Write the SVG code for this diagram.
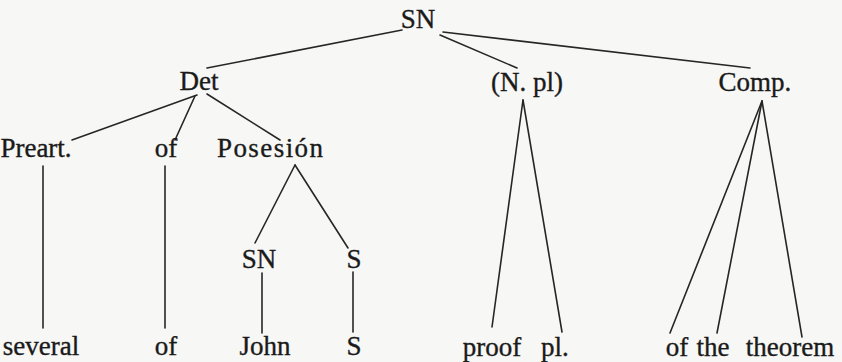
<svg xmlns="http://www.w3.org/2000/svg" width="842" height="362" viewBox="0 0 842 362">
<style>
.t text{font-size:27px;fill:#1a1a1a;stroke:#1a1a1a;stroke-width:0.35;text-anchor:middle}
.e line{stroke:#262626;stroke-width:1.6;stroke-linecap:round}
</style>
<rect width="842" height="362" fill="#f7f7f5"/>
<g class="e" id="edges">
<line x1="402" y1="30" x2="207" y2="68"/>
<line x1="440" y1="35" x2="517" y2="68"/>
<line x1="443" y1="32" x2="750" y2="68"/>
<line x1="197" y1="95" x2="72" y2="140"/>
<line x1="195" y1="96" x2="175" y2="140"/>
<line x1="207" y1="94" x2="280" y2="140"/>
<line x1="43" y1="166" x2="43" y2="328"/>
<line x1="165" y1="166" x2="165" y2="328"/>
<line x1="295" y1="165" x2="255" y2="243"/>
<line x1="295" y1="165" x2="348" y2="248"/>
<line x1="262" y1="273" x2="262" y2="333"/>
<line x1="353" y1="272" x2="353" y2="332"/>
<line x1="523" y1="100" x2="492" y2="327"/>
<line x1="523" y1="100" x2="562" y2="332"/>
<line x1="762" y1="101" x2="670" y2="333"/>
<line x1="762" y1="101" x2="717" y2="333"/>
<line x1="762" y1="101" x2="802" y2="337"/>
</g>
<g class="t" font-family="Liberation Serif, serif">
<g id="n-sn"><text x="418" y="28">SN</text></g>
<g id="n-det"><text x="199" y="90">Det</text></g>
<g id="n-npl"><text x="527" y="91">(N. pl)</text></g>
<g id="n-comp"><text x="755" y="91">Comp.</text></g>
<g id="n-preart"><text x="36" y="157">Preart.</text></g>
<g id="n-of1"><text x="166" y="157">of</text></g>
<g id="n-posesion"><text x="270" y="157" textLength="106" lengthAdjust="spacing">Posesión</text></g>
<g id="n-sn2"><text x="259" y="268">SN</text></g>
<g id="n-s2"><text x="354" y="268">S</text></g>
<g id="n-several"><text x="41" y="355">several</text></g>
<g id="n-of2"><text x="166" y="355">of</text></g>
<g id="n-john"><text x="265" y="355">John</text></g>
<g id="n-s3"><text x="354" y="355">S</text></g>
<g id="n-proof"><text x="492" y="356">proof</text></g>
<g id="n-pl"><text x="555" y="356">pl.</text></g>
<g id="n-of3"><text x="677" y="356">of</text></g>
<g id="n-the"><text x="713" y="356">the</text></g>
<g id="n-theorem"><text x="790" y="356">theorem</text></g>
</g>
</svg>
